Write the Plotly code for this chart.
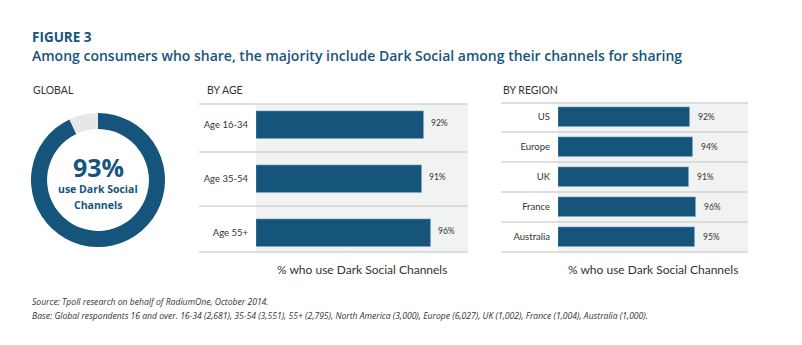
import plotly.graph_objects as go

W, H = 802, 345
BLUE = "#15557c"
GREY_RING = "#e6e7e8"
TXT = "#333333"
FONT = "Lato"

# ---- data ----
global_share = [93, 7]
global_labels = ["Use Dark Social", "Other"]

age_cats = ["Age 16-34", "Age 35-54", "Age 55+"]
age_vals = [92, 91, 96]

region_cats = ["US", "Europe", "UK", "France", "Australia"]
region_vals = [92, 94, 91, 96, 95]

axis_title = "% who use Dark Social Channels"
title = "FIGURE 3"
subtitle = "Among consumers who share, the majority include Dark Social among their channels for sharing"
source = "Source: Tpoll research on behalf of RadiumOne, October 2014."
base = ("Base: Global respondents 16 and over. 16-34 (2,681), 35-54 (3,551), 55+ (2,795), "
        "North America (3,000), Europe (6,027), UK (1,002), France (1,004), Australia (1,000).")


def px(x):
    return x / W


def py(y):
    return 1 - y / H


fig = go.Figure()

fig.add_trace(go.Pie(
    values=global_share, labels=global_labels, hole=0.76, sort=False,
    direction="clockwise", rotation=0,
    marker=dict(colors=[BLUE, GREY_RING], line=dict(width=0)),
    textinfo="none", hoverinfo="skip", showlegend=False,
    domain=dict(x=[px(31), px(165)], y=[py(247), py(113)]),
))

fig.add_trace(go.Bar(
    x=age_vals, y=age_cats, orientation="h", marker_color=BLUE,
    width=0.52, xaxis="x", yaxis="y", showlegend=False, hoverinfo="skip",
))
fig.add_trace(go.Bar(
    x=region_vals, y=region_cats, orientation="h", marker_color=BLUE,
    width=0.667, xaxis="x2", yaxis="y2", showlegend=False, hoverinfo="skip",
))

annotations = []
for c, v in zip(age_cats, age_vals):
    annotations.append(dict(x=v, y=c, xref="x", yref="y", text=f"{v}%", showarrow=False,
                            xanchor="left", xshift=5, yshift=2,
                            font=dict(family=FONT, size=8.5, color=TXT)))
for c, v in zip(region_cats, region_vals):
    annotations.append(dict(x=v, y=c, xref="x2", yref="y2", text=f"{v}%", showarrow=False,
                            xanchor="left", xshift=6, yshift=0,
                            font=dict(family=FONT, size=8.5, color=TXT)))

# Axis titles
for xr in ["x domain", "x2 domain"]:
    annotations.append(dict(x=0.5, y=py(269), xref=xr, yref="paper", text=axis_title,
                            showarrow=False, xanchor="center", yanchor="middle",
                            font=dict(family=FONT, size=12, color=TXT)))

# Headers
for txt, x in [("GLOBAL", 31), ("BY AGE", 205), ("BY REGION", 501)]:
    annotations.append(dict(x=px(x), y=py(89.5), xref="paper", yref="paper", text=txt,
                            showarrow=False, xanchor="left", yanchor="middle",
                            font=dict(family=FONT, size=10.5, color=TXT)))

# Titles
annotations.append(dict(x=px(30), y=py(37), xref="paper", yref="paper", text=f"<b>{title}</b>",
                        showarrow=False, xanchor="left", yanchor="middle",
                        font=dict(family="Open Sans", size=13.5, color=BLUE)))
annotations.append(dict(x=px(30), y=py(55.5), xref="paper", yref="paper", text=subtitle,
                        showarrow=False, xanchor="left", yanchor="middle",
                        font=dict(family="Open Sans", size=14, color=BLUE, weight=600)))

# Donut centre
annotations.append(dict(x=px(98), y=py(167), xref="paper", yref="paper", text="<b>93%</b>",
                        showarrow=False, xanchor="center", yanchor="middle",
                        font=dict(family="Open Sans", size=25, color=BLUE)))
annotations.append(dict(x=px(98), y=py(189), xref="paper", yref="paper", text="<b>use Dark Social</b>",
                        showarrow=False, xanchor="center", yanchor="middle",
                        font=dict(family="Open Sans", size=10.5, color=BLUE)))
annotations.append(dict(x=px(98), y=py(205), xref="paper", yref="paper", text="<b>Channels</b>",
                        showarrow=False, xanchor="center", yanchor="middle",
                        font=dict(family="Open Sans", size=10.5, color=BLUE)))

# Footnotes
annotations.append(dict(x=px(30), y=py(302), xref="paper", yref="paper", text=f"<i>{source}</i>",
                        showarrow=False, xanchor="left", yanchor="middle",
                        font=dict(family="Open Sans", size=8.6, color=TXT)))
annotations.append(dict(x=px(30), y=py(316), xref="paper", yref="paper", text=f"<i>{base}</i>",
                        showarrow=False, xanchor="left", yanchor="middle",
                        font=dict(family="Open Sans", size=8.6, color=TXT)))

# separator lines
LINE = dict(color="#d3d5d5", width=1.5)
shapes = []
for yref, yv in [("y domain", 1), ("y domain", 0), ("y", 0.5), ("y", 1.5)]:
    shapes.append(dict(type="line", xref="paper", yref=yref, x0=px(199), x1=px(468),
                       y0=yv, y1=yv, line=LINE, layer="above"))
for yref, yv in [("y2 domain", 1), ("y2 domain", 0), ("y2", 0.5), ("y2", 1.5), ("y2", 2.5), ("y2", 3.5)]:
    shapes.append(dict(type="line", xref="paper", yref=yref, x0=px(501), x1=px(748),
                       y0=yv, y1=yv, line=LINE, layer="above"))

tickfont = dict(family=FONT, size=9.5, color=TXT)
fig.update_layout(
    width=W, height=H, margin=dict(l=0, r=0, t=0, b=0),
    paper_bgcolor="white", plot_bgcolor="#f1f3f2",
    bargap=0,
    xaxis=dict(domain=[px(256), px(468)], range=[0, 116], showgrid=False, zeroline=False,
               showticklabels=False, fixedrange=True),
    yaxis=dict(domain=[py(252), py(104)], range=[2.352, -0.389], showgrid=False,
               zeroline=False, ticks="", tickfont=tickfont, ticklabelstandoff=7, anchor="x"),
    xaxis2=dict(domain=[px(558), px(748)], range=[0, 132], showgrid=False, zeroline=False,
                showticklabels=False, anchor="y2"),
    yaxis2=dict(domain=[py(252), py(103)], range=[4.5, -0.467], showgrid=False,
                zeroline=False, ticks="", tickfont=tickfont, ticklabelstandoff=7, anchor="x2"),
    annotations=annotations, shapes=shapes,
)

fig.write_html("out.html")
